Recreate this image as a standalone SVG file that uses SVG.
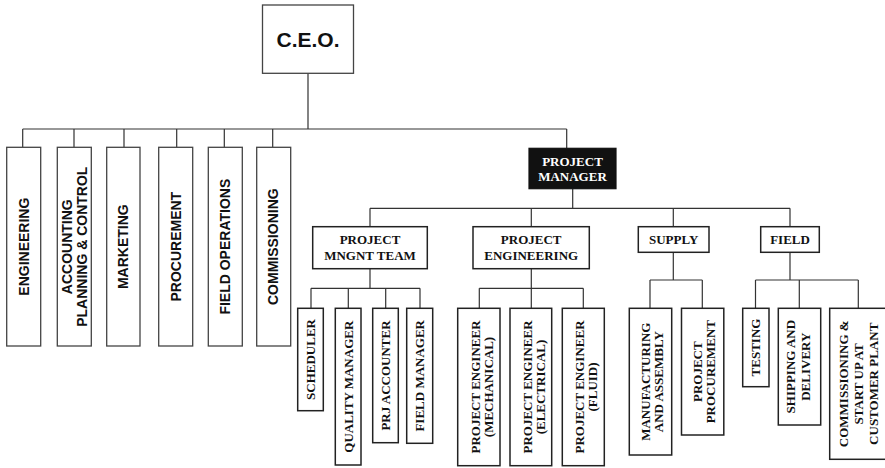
<svg xmlns="http://www.w3.org/2000/svg" width="885" height="468" viewBox="0 0 885 468">
<style>
.bg{fill:#fff}
.dept rect{fill:#fff;stroke:#444;stroke-width:1.3}
.dt{font-family:"Liberation Sans",Arial,sans-serif;font-weight:bold;font-size:14px;fill:#111;text-anchor:middle}
.ceo{font-family:"Liberation Sans",Arial,sans-serif;font-weight:bold;font-size:21px;fill:#111;text-anchor:middle}
.box rect{fill:#fff;stroke:#222;stroke-width:1.5}
.st{font-family:"Liberation Serif","Times New Roman",serif;font-weight:bold;font-size:13px;fill:#111;text-anchor:middle}
.pm rect{fill:#111;stroke:#111;stroke-width:1.2}
.pm text{fill:#fff}
#connectors path{stroke:#333;stroke-width:1.2;fill:none}
</style>
<rect class="bg" x="0" y="0" width="885" height="468"/>

<g id="connectors">
<path d="M308,73.3V129M22.7,129H566.7M22.7,129V147.3M74,129V147.3M124,129V147.3M176.7,129V147.3M224.3,129V147.3M272.7,129V147.3M566.7,129V148.3"/>
<path d="M572.7,188.7V208.3M370,208.3H790M370,208.3V226.7M531.3,208.3V226.7M673.3,208.3V226.7M790,208.3V226.7"/>
<path d="M370,268.7V288.3M311,288.3H420M311,288.3V308.3M348.3,288.3V308.3M385.7,288.3V308.3M420,288.3V308.3"/>
<path d="M531.3,268.7V288.3M479.3,288.3H583.3M479.3,288.3V308.3M531.3,288.3V308.3M583.3,288.3V308.3"/>
<path d="M673.3,252.3V280M650,280H702.3M650,280V308.3M702.3,280V308.3"/>
<path d="M790,252.3V280M755.5,280H858.3M755.5,280V308.3M799.3,280V308.3M858.3,280V308.3"/>
</g>

<g id="ceo" class="dept"><rect x="262.5" y="5" width="91" height="68.3"/><text class="ceo" x="308" y="46.7">C.E.O.</text></g>

<g id="engineering" class="dept"><rect x="6.7" y="147.3" width="34" height="198.7"/><text class="dt" transform="translate(28.7,246.7) rotate(-90)">ENGINEERING</text></g>
<g id="accounting" class="dept"><rect x="57.3" y="147.3" width="34" height="198.7"/><text class="dt" transform="translate(71.7,246.7) rotate(-90)"><tspan x="0" y="0">ACCOUNTING</tspan><tspan x="0" dy="15">PLANNING &amp; CONTROL</tspan></text></g>
<g id="marketing" class="dept"><rect x="106.7" y="147.3" width="33.3" height="198.7"/><text class="dt" transform="translate(128.3,246.7) rotate(-90)">MARKETING</text></g>
<g id="procurement" class="dept"><rect x="158.7" y="147.3" width="34" height="198.7"/><text class="dt" transform="translate(181,246.7) rotate(-90)">PROCUREMENT</text></g>
<g id="field-operations" class="dept"><rect x="208.3" y="147.3" width="34" height="198.7"/><text class="dt" transform="translate(230,246.7) rotate(-90)">FIELD OPERATIONS</text></g>
<g id="commissioning" class="dept"><rect x="256.7" y="147.3" width="34" height="198.7"/><text class="dt" transform="translate(278.3,246.7) rotate(-90)">COMMISSIONING</text></g>

<g id="project-manager" class="pm"><rect x="529" y="148.3" width="87" height="40.4"/><text class="st" x="572.5" y="165.5">PROJECT</text><text class="st" x="572.5" y="181.2">MANAGER</text></g>

<g id="mngnt-team" class="box"><rect x="312.7" y="226.7" width="114.6" height="42"/><text class="st" x="370" y="244.3">PROJECT</text><text class="st" x="370" y="260">MNGNT TEAM</text></g>
<g id="project-engineering" class="box"><rect x="473" y="226.7" width="116.3" height="42"/><text class="st" x="531.2" y="244.3">PROJECT</text><text class="st" x="531.2" y="260">ENGINEERING</text></g>
<g id="supply" class="box"><rect x="638.3" y="226.7" width="70.7" height="25.6"/><text class="st" x="673.7" y="243.8">SUPPLY</text></g>
<g id="field" class="box"><rect x="760.7" y="226.7" width="58.6" height="25.6"/><text class="st" x="790" y="243.8">FIELD</text></g>

<g id="scheduler" class="box"><rect x="297.7" y="308.3" width="25.6" height="102.4"/><text class="st" transform="translate(315,359.5) rotate(-90)">SCHEDULER</text></g>
<g id="quality-manager" class="box"><rect x="335.3" y="308.3" width="25.7" height="156.7"/><text class="st" transform="translate(352.5,386.7) rotate(-90)">QUALITY MANAGER</text></g>
<g id="prj-accounter" class="box"><rect x="372.7" y="308.3" width="25.6" height="134.4"/><text class="st" transform="translate(390,375.5) rotate(-90)">PRJ ACCOUNTER</text></g>
<g id="field-manager" class="box"><rect x="406.7" y="308.3" width="26" height="135"/><text class="st" transform="translate(424,375.8) rotate(-90)">FIELD MANAGER</text></g>

<g id="pe-mechanical" class="box"><rect x="457.7" y="308.3" width="42.3" height="157.4"/><text class="st" transform="translate(479.5,387) rotate(-90)"><tspan x="0" y="0">PROJECT ENGINEER</tspan><tspan x="0" dy="13.3">(MECHANICAL)</tspan></text></g>
<g id="pe-electrical" class="box"><rect x="510" y="308.3" width="41.7" height="157.4"/><text class="st" transform="translate(531.5,387) rotate(-90)"><tspan x="0" y="0">PROJECT ENGINEER</tspan><tspan x="0" dy="13.3">(ELECTRICAL)</tspan></text></g>
<g id="pe-fluid" class="box"><rect x="562.3" y="308.3" width="42" height="157.4"/><text class="st" transform="translate(584,387) rotate(-90)"><tspan x="0" y="0">PROJECT ENGINEER</tspan><tspan x="0" dy="13.3">(FLUID)</tspan></text></g>

<g id="manufacturing" class="box"><rect x="629.3" y="308.3" width="42.4" height="146.7"/><text class="st" transform="translate(650.2,381.7) rotate(-90)"><tspan x="0" y="0">MANUFACTURING</tspan><tspan x="0" dy="13.3">AND ASSEMBLY</tspan></text></g>
<g id="project-procurement" class="box"><rect x="681.5" y="308.3" width="42.3" height="126.7"/><text class="st" transform="translate(702,371.7) rotate(-90)"><tspan x="0" y="0">PROJECT</tspan><tspan x="0" dy="13.3">PROCUREMENT</tspan></text></g>

<g id="testing" class="box"><rect x="742.7" y="308.3" width="26.3" height="78.4"/><text class="st" transform="translate(760,347.5) rotate(-90)">TESTING</text></g>
<g id="shipping" class="box"><rect x="778.3" y="308.3" width="42.4" height="116.7"/><text class="st" transform="translate(795.3,366.7) rotate(-90)"><tspan x="0" y="0">SHIPPING AND</tspan><tspan x="0" dy="14.7">DELIVERY</tspan></text></g>
<g id="commissioning-startup" class="box"><rect x="829.7" y="308.3" width="58" height="151"/><text class="st" transform="translate(848.3,383.8) rotate(-90)"><tspan x="0" y="0">COMMISSIONING &amp;</tspan><tspan x="0" dy="15">START UP AT</tspan><tspan x="0" dy="15">CUSTOMER PLANT</tspan></text></g>
</svg>
